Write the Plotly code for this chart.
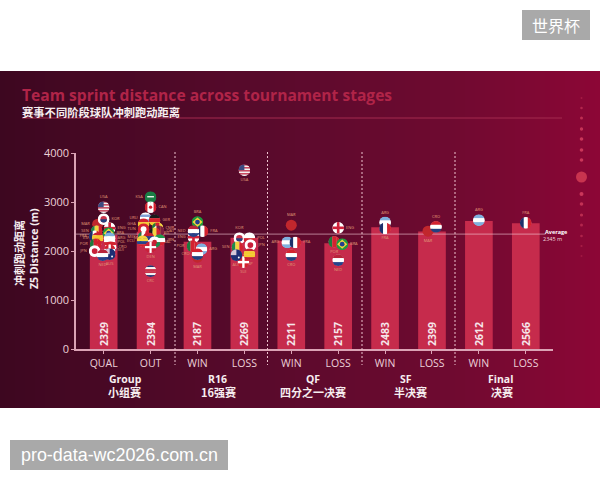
import base64
import plotly.graph_objects as go

# Stage-average sprint distance per bar
bar_labels = ["QUAL", "OUT", "WIN", "LOSS", "WIN", "LOSS", "WIN", "LOSS", "WIN", "LOSS"]
bar_values = [2329, 2394, 2187, 2269, 2211, 2157, 2483, 2399, 2612, 2566]
average_value = 2345

# Team results per bar
qual_codes = ["USA", "KOR", "MAR", "ENG", "SEN", "BRA", "ARG", "FRA", "ESP", "POL", "POR", "CRO", "JPN", "SUI", "AUS", "NED"]
qual_dist = [2894, 2650, 2548, 2466, 2405, 2364, 2262, 2303, 2262, 2181, 2140, 2079, 1998, 2018, 1936, 1916]
out_codes = ["KSA", "CAN", "URU", "GER", "GHA", "CMR", "TUN", "QAT", "BEL", "MEX", "SRB", "ECU", "IRN", "WAL", "DEN", "CRC"]
out_dist = [3098, 2894, 2670, 2630, 2548, 2466, 2446, 2405, 2364, 2283, 2262, 2201, 2222, 2181, 2079, 1590]
r16_win_codes = ["BRA", "FRA", "ENG", "NED", "POR", "MAR", "ARG", "CRO"]
r16_win_dist = [2590, 2405, 2283, 2405, 2100, 1875, 2038, 1936]
r16_loss_codes = ["USA", "KOR", "POL", "SEN", "JPN", "SUI", "AUS", "ESP"]
r16_loss_dist = [3650, 2262, 2262, 2079, 2120, 1773, 1916, 1936]
qf_win_codes = ["MAR", "ARG", "FRA", "CRO"]
qf_win_dist = [2527, 2175, 2175, 1916]
qf_loss_codes = ["ENG", "POR", "BRA", "NED"]
qf_loss_dist = [2473, 2187, 2140, 1814]
sf_win_codes = ["ARG", "FRA"]
sf_win_dist = [2582, 2460]
sf_loss_codes = ["CRO", "MAR"]
sf_loss_dist = [2493, 2405]
final_win_codes = ["ARG"]
final_win_dist = [2629]
final_loss_codes = ["FRA"]
final_loss_dist = [2574]

group_names = ["Group", "R16", "QF", "SF", "Final"]
group_names_zh = ["小组赛", "16强赛", "四分之一决赛", "半决赛", "决赛"]

# Horizontal nudge (px) and label side of each team, to untangle the pile of flags
PLACEMENT = [
    [(0, "t"), (0, "r"), (-6, "l"), (6, "r"), (-7, "l"), (5, "r"), (6, "r"), (-9, "l"),
     (-6, "l"), (6, "r"), (-8, "l"), (7, "r"), (-9, "l"), (6, "r"), (6, "b"), (-1, "b")],
    [(0, "l"), (0, "r"), (-5, "l"), (4, "r"), (-7, "l"), (7, "r"), (-7, "l"), (8, "r"),
     (4, "r"), (-7, "l"), (-2, "l"), (-8, "l"), (9, "r"), (4, "r"), (0, "b"), (0, "b")],
    [(0, "t"), (5, "r"), (-4, "l"), (-4, "l"), (-5, "l"), (0, "b"), (4, "r"), (0, "l")],
    [(0, "b"), (-5, "t"), (5, "r"), (-7, "l"), (6, "r"), (-1, "b"), (-8, "b"), (5, "b")],
    [(0, "t"), (-4, "l"), (4, "r"), (0, "b")],
    [(0, "r"), (-4, "b"), (4, "r"), (0, "b")],
    [(0, "t"), (0, "b")],
    [(4, "t"), (-4, "b")],
    [(0, "t")],
    [(0, "t")],
]

team_columns = [
    (qual_codes, qual_dist), (out_codes, out_dist),
    (r16_win_codes, r16_win_dist), (r16_loss_codes, r16_loss_dist),
    (qf_win_codes, qf_win_dist), (qf_loss_codes, qf_loss_dist),
    (sf_win_codes, sf_win_dist), (sf_loss_codes, sf_loss_dist),
    (final_win_codes, final_win_dist), (final_loss_codes, final_loss_dist),
]


def hbands(*cols):
    h = 100 / len(cols)
    return "".join(f'<rect x="0" y="{i*h}" width="100" height="{h+0.5}" fill="{c}"/>' for i, c in enumerate(cols))


def vbands(*cols):
    w = 100 / len(cols)
    return "".join(f'<rect x="{i*w}" y="0" width="{w+0.5}" height="100" fill="{c}"/>' for i, c in enumerate(cols))


def cross(bg, fg, t=22):
    return (f'<rect width="100" height="100" fill="{bg}"/>'
            f'<rect x="{50-t/2}" width="{t}" height="100" fill="{fg}"/>'
            f'<rect y="{50-t/2}" width="100" height="{t}" fill="{fg}"/>')


def disc(bg, fg, r=26):
    return f'<rect width="100" height="100" fill="{bg}"/><circle cx="50" cy="50" r="{r}" fill="{fg}"/>'


FLAGS = {
    "USA": hbands(*["#c8324a", "#f4f0f0"] * 4) + '<rect width="50" height="50" fill="#3c4a80"/>',
    "KOR": disc("#ffffff", "#c8324a", 27) + '<path d="M23 50a27 27 0 0 0 54 0z" fill="#22407f"/>',
    "MAR": disc("#c1272d", "#b5462f", 14),
    "ENG": cross("#ffffff", "#d0213a"),
    "SEN": vbands("#1f8a4c", "#f5d53f", "#d3222f"),
    "BRA": '<rect width="100" height="100" fill="#1f9a3e"/><path d="M50 12 92 50 50 88 8 50z" fill="#f5d53f"/><circle cx="50" cy="50" r="20" fill="#23408f"/>',
    "ARG": hbands("#7fb0de", "#ffffff", "#7fb0de"),
    "FRA": vbands("#1d2f6b", "#ffffff", "#d3222f"),
    "ESP": hbands("#c8202f", "#f5c92e", "#f5c92e", "#c8202f"),
    "POL": hbands("#ffffff", "#d3222f"),
    "POR": vbands("#1f7a3c", "#d3222f", "#d3222f"),
    "CRO": hbands("#d3222f", "#ffffff", "#22407f"),
    "JPN": disc("#ffffff", "#c8203a", 24),
    "SUI": cross("#d3222f", "#ffffff", 20),
    "AUS": '<rect width="100" height="100" fill="#1f2f74"/><rect width="50" height="50" fill="#d8c8d8"/><circle cx="70" cy="70" r="8" fill="#ffffff"/>',
    "NED": hbands("#b8243a", "#ffffff", "#26428b"),
    "KSA": '<rect width="100" height="100" fill="#1a7d45"/><rect x="22" y="40" width="56" height="12" fill="#e8f0e8"/>',
    "CAN": vbands("#d3222f", "#ffffff", "#ffffff", "#d3222f") + '<circle cx="50" cy="50" r="14" fill="#d3222f"/>',
    "URU": hbands("#ffffff", "#7fa3d8", "#ffffff", "#7fa3d8", "#ffffff"),
    "GER": hbands("#1a1a1a", "#d3222f", "#f5c92e"),
    "GHA": hbands("#d3222f", "#f5c92e", "#1f8a4c"),
    "CMR": vbands("#1f7a3c", "#d3222f", "#f5d53f"),
    "TUN": disc("#d3222f", "#ffffff", 24),
    "QAT": vbands("#ffffff", "#7d1d3f", "#7d1d3f"),
    "BEL": vbands("#1a1a1a", "#f5d53f", "#d3222f"),
    "MEX": vbands("#1f7a4c", "#ffffff", "#c8202f"),
    "SRB": hbands("#c8202f", "#26428b", "#ffffff"),
    "ECU": hbands("#f5d53f", "#f5d53f", "#26428b", "#d3222f"),
    "IRN": hbands("#1f9a4c", "#ffffff", "#d3222f"),
    "WAL": hbands("#ffffff", "#1f8a4c") + '<circle cx="50" cy="50" r="20" fill="#c8202f"/>',
    "DEN": cross("#c8203a", "#ffffff", 18),
    "CRC": hbands("#26306f", "#f4f0f0", "#c8324a", "#c8324a", "#f4f0f0", "#26306f"),
}
BASE_COLOR = {"MAR": "#c1272d", "KSA": "#1a7d45", "BRA": "#1f9a3e", "USA": "#c8d0e0"}


def flag_source(code):
    svg = ('<svg xmlns="http://www.w3.org/2000/svg" viewBox="0 0 100 100">'
           '<defs><clipPath id="c"><circle cx="50" cy="50" r="49"/></clipPath></defs>'
           f'<g clip-path="url(#c)">{FLAGS[code]}</g></svg>')
    return "data:image/svg+xml;base64," + base64.b64encode(svg.encode()).decode()


PX_PER_STAGE = 46.9
PX_PER_UNIT = 196.0 / 4000
FLAG_PX = 12
SANS = "Open Sans, Noto Sans CJK SC, sans-serif"
CJK = "Noto Sans CJK SC, sans-serif"

fig = go.Figure()

# Panel gradient, on a pixel-like backdrop axis pair that spans the whole page
stops = list(range(121))
fig.add_trace(go.Heatmap(
    z=[[s / 120 for s in stops]],
    x=[5 * s for s in stops] + [605], y=[71, 408],
    xaxis="x", yaxis="y", zmin=0, zmax=1, showscale=False, hoverinfo="skip",
    colorscale=[[0, "#3d0720"], [0.45, "#5a0a2c"], [0.75, "#6f0a30"], [1, "#8d0636"]],
))

fig.add_trace(go.Bar(
    x=list(range(10)), y=bar_values, width=0.59, xaxis="x2", yaxis="y2",
    marker=dict(color="#c62b4c", line_width=0),
    text=[str(v) for v in bar_values], textposition="inside", insidetextanchor="start",
    textangle=-90, constraintext="none", cliponaxis=False,
    textfont=dict(family=SANS, size=10.5, color="#f6e6ea", weight="bold"),
    hoverinfo="skip",
))

fig.add_trace(go.Scatter(
    x=[-0.59, 9.42], y=[average_value, average_value], mode="lines", xaxis="x2", yaxis="y2",
    line=dict(color="rgba(245,205,215,0.6)", width=1), hoverinfo="skip",
))

images = []
SIDE = {"t": "top center", "b": "bottom center", "l": "middle left", "r": "middle right"}
for stage, ((codes, dists), places) in enumerate(zip(team_columns, PLACEMENT)):
    xs = [stage + p[0] / PX_PER_STAGE for p in places]
    fig.add_trace(go.Scatter(
        x=xs, y=dists, mode="markers+text", xaxis="x2", yaxis="y2", text=codes,
        textposition=[SIDE[p[1]] for p in places], cliponaxis=False,
        marker=dict(size=FLAG_PX - 1, color=[BASE_COLOR.get(c, "#e8dce0") for c in codes], line_width=0),
        textfont=dict(family=SANS, size=4, color="#e09a78"), hoverinfo="skip",
    ))
    for code, x, d in zip(codes, xs, dists):
        if code != "MAR":
            images.append(dict(
                source=flag_source(code), xref="x2", yref="y2", x=x, y=d,
                sizex=FLAG_PX / PX_PER_STAGE, sizey=FLAG_PX / PX_PER_UNIT,
                xanchor="center", yanchor="middle", sizing="stretch", layer="above",
            ))

shapes = []
# Rule under the heading
shapes.append(dict(type="line", xref="x", yref="y", x0=22, x1=562, y0=118, y1=118,
                   line=dict(color="#a32a4e", width=1)))
# Stage dividers
for dx in (175, 267.5, 362, 455):
    shapes.append(dict(type="line", xref="x", yref="y", x0=dx, x1=dx, y0=152, y1=365,
                       line=dict(color="#eec3ce", width=1, dash="2px,2px")))
# Ornament column on the right edge
for cy, r, a in [(98, 1, .35), (108, 1.3, .55), (118, 1.5, .7), (129, 1.7, .8), (139, 1.8, .85), (150, 1.8, .85),
                 (160, 1.8, .85), (194, 2, .85), (204, 1.8, .75), (215, 1.6, .65), (225, 1.5, .55),
                 (236, 1.3, .5), (246, 1.1, .4), (256, 1, .3)]:
    shapes.append(dict(type="circle", xref="x", yref="y", x0=581.5 - r, x1=581.5 + r, y0=cy - r, y1=cy + r,
                       fillcolor=f"rgba(214,64,96,{a})", line_width=0))
shapes.append(dict(type="circle", xref="x", yref="y", x0=576, x1=587, y0=171.5, y1=182.5,
                   fillcolor="#c8344f", line_width=0))
# Caption plates
shapes.append(dict(type="rect", xref="x", yref="y", x0=522, x1=590, y0=10, y1=40, fillcolor="#a9a9a9", line_width=0))
shapes.append(dict(type="rect", xref="x", yref="y", x0=10, x1=228, y0=440, y1=470, fillcolor="#a9a9a9", line_width=0))


def note(x, y, text, size, color="#ffffff", family=SANS, weight="normal", angle=0, align="center"):
    return dict(xref="x", yref="y", x=x, y=y, text=text, showarrow=False, textangle=angle,
                xanchor=align, yanchor="middle",
                font=dict(family=family, size=size, color=color, weight=weight))


notes = [
    note(20, 95, "Team sprint distance across tournament stages", 15.6, "#b02448", SANS, "bold", align="left"),
    note(20, 112, "赛事不同阶段球队冲刺跑动距离", 11.3, "#f7eef0", CJK, "bold", align="left"),
    note(19, 253, "冲刺跑动距离", 11, "#f7eef0", CJK, "bold", angle=-90),
    note(34, 249, "Z5 Distance (m)", 10.5, "#f7eef0", SANS, "bold", angle=-90),
    note(556, 232, "Average", 5.5, "#ffffff", SANS, "bold"),
    note(552, 239, "2345 m", 5.5, "#f0d8de"),
    note(556, 25, "世界杯", 16, "#ffffff", CJK),
    note(119, 455, "pro-data-wc2026.com.cn", 17.9, "#ffffff", "Liberation Sans, sans-serif"),
]
for name, zh, cx, cz in zip(group_names, group_names_zh, (125, 217, 313, 406, 500), (124.5, 218, 313, 410, 502)):
    notes.append(note(cx, 379, name, 10.5, "#f7eef0", SANS, "bold"))
    notes.append(note(cz, 392, zh, 11, "#f7eef0", CJK, "bold"))

AXIS_COLOR = "#dba3b5"
fig.update_layout(
    width=600, height=480, margin=dict(l=0, r=0, t=0, b=0, pad=0, autoexpand=False), showlegend=False,
    paper_bgcolor="#ffffff", plot_bgcolor="rgba(0,0,0,0)", barmode="overlay",
    xaxis=dict(domain=[0, 1], range=[0, 600], visible=False, fixedrange=True),
    yaxis=dict(domain=[0, 1], range=[480, 0], visible=False, fixedrange=True),
    xaxis2=dict(domain=[76 / 600, 553 / 600], range=[-0.59, 9.58], anchor="y2", tickmode="array",
                tickvals=list(range(10)), ticktext=bar_labels, showgrid=False, zeroline=False,
                showline=True, linecolor=AXIS_COLOR, linewidth=1.5, ticks="outside", ticklen=3,
                tickcolor=AXIS_COLOR, ticklabelstandoff=1,
                tickfont=dict(family=SANS, size=10.5, color="#ecd0d8")),
    yaxis2=dict(domain=[131 / 480, 327 / 480], range=[0, 4000], anchor="x2", tickvals=[0, 1000, 2000, 3000, 4000],
                showgrid=False, zeroline=False, showline=True, linecolor=AXIS_COLOR, linewidth=1.5,
                ticks="outside", ticklen=3, tickcolor=AXIS_COLOR,
                tickfont=dict(family=SANS, size=11, color="#ecd0d8")),
    images=images, shapes=shapes, annotations=notes,
)

fig.write_html("out.html", config={"displayModeBar": False})
